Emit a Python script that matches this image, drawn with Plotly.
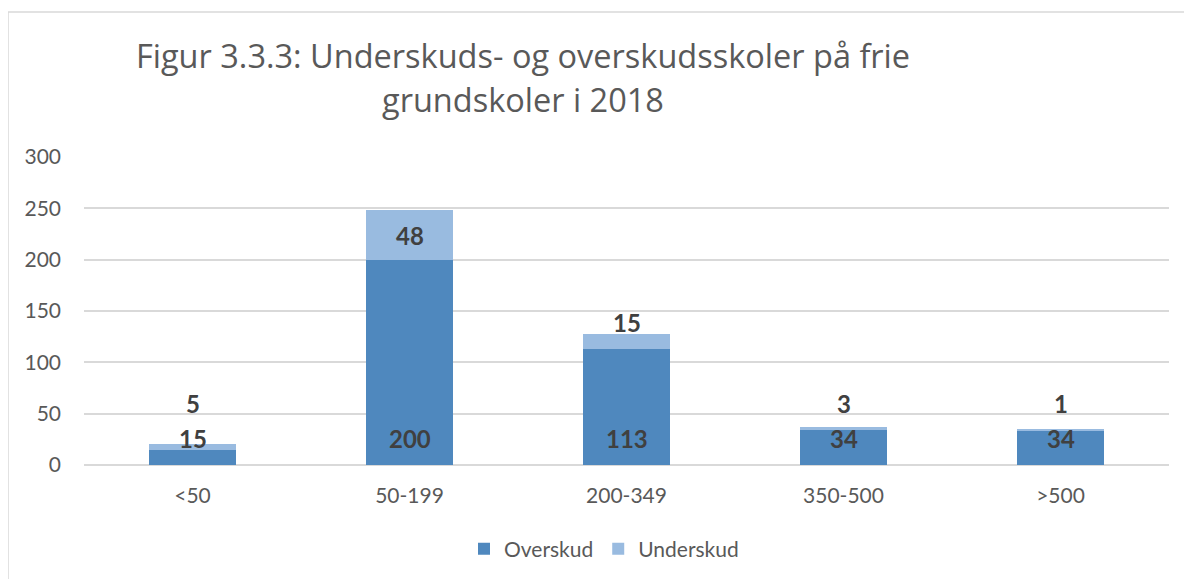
import plotly.graph_objects as go

categories = ["<50", "50-199", "200-349", "350-500", ">500"]
overskud = [15, 200, 113, 34, 34]
underskud = [5, 48, 15, 3, 1]
y_ticks = [0, 50, 100, 150, 200, 250, 300]

title_line1 = "Figur 3.3.3: Underskuds- og overskudsskoler på frie"
title_line2 = "grundskoler i 2018"

C_OVER = "#4F88BE"
C_UNDER = "#99BBE0"
FONT = "Lato"
TFONT = "Open Sans"
TXT = "#595959"
LBL = "#404040"

# page body has an 8px offset; compensate so the plot lands where the reference has it
OFF = 8
L, R, T, B = 84 - OFF, 23 + OFF, 157 - OFF, 114 + OFF
PH = 579 - T - B
PW = 1192 - L - R


def py(ypix):
    return (579 - B - (ypix - OFF)) / PH


def px(xpix):
    return ((xpix - OFF) - L) / PW


fig = go.Figure()
fig.add_trace(go.Bar(name="Overskud", x=categories, y=overskud, marker_color=C_OVER,
                     marker_line_width=0, hoverinfo="skip"))
fig.add_trace(go.Bar(name="Underskud", x=categories, y=underskud, marker_color=C_UNDER,
                     marker_line_width=0, hoverinfo="skip"))

annotations = []
for c, v in zip(categories, overskud):
    annotations.append(dict(x=c, y=0, xref="x", yref="y", text=f"<b>{v}</b>",
                            showarrow=False, yanchor="bottom", yshift=10,
                            font=dict(family=FONT, size=24, color=LBL)))
for c, o, u in zip(categories, overskud, underskud):
    if u >= 30:
        ypos = o + u / 2
    else:
        ypos = max(o + u + 11, 60)
    annotations.append(dict(x=c, y=ypos, xref="x", yref="y", text=f"<b>{u}</b>",
                            showarrow=False, yanchor="middle",
                            font=dict(family=FONT, size=24, color=LBL)))

annotations.append(dict(x=px(523), y=py(56), xref="paper", yref="paper",
                        text=title_line1, showarrow=False, xanchor="center", yanchor="middle",
                        font=dict(family=TFONT, size=32.5, color=TXT)))
annotations.append(dict(x=px(523), y=py(100), xref="paper", yref="paper",
                        text=title_line2, showarrow=False, xanchor="center", yanchor="middle",
                        font=dict(family=TFONT, size=32.5, color=TXT)))

fig.update_layout(
    width=1192, height=579,
    margin=dict(l=L, r=R, t=T, b=B),
    paper_bgcolor="white", plot_bgcolor="white",
    barmode="stack", bargap=0.6,
    showlegend=True,
    legend=dict(orientation="h", x=px(604), xanchor="center", y=py(549), yanchor="middle",
                font=dict(family=FONT, size=21, color=TXT), traceorder="normal"),
    font=dict(family=FONT, color=TXT),
    annotations=annotations,
    shapes=[dict(type="rect", xref="paper", yref="paper",
                 x0=px(8), x1=1.2, y0=-1, y1=py(12),
                 line=dict(color="#D9D9D9", width=1.5), fillcolor="rgba(0,0,0,0)", layer="below")],
)
fig.update_xaxes(showgrid=False, showline=False, ticks="", ticklabelstandoff=16,
                 tickfont=dict(family=FONT, size=21, color=TXT))
fig.update_yaxes(range=[0, 300], tickvals=y_ticks, showgrid=True, gridcolor="#D9D9D9", gridwidth=1.5,
                 zeroline=True, zerolinecolor="#D9D9D9", zerolinewidth=1.5, showline=False,
                 ticks="", ticklabelstandoff=22, tickfont=dict(family=FONT, size=21, color=TXT))

fig.write_html("out.html", config={"displayModeBar": False})
